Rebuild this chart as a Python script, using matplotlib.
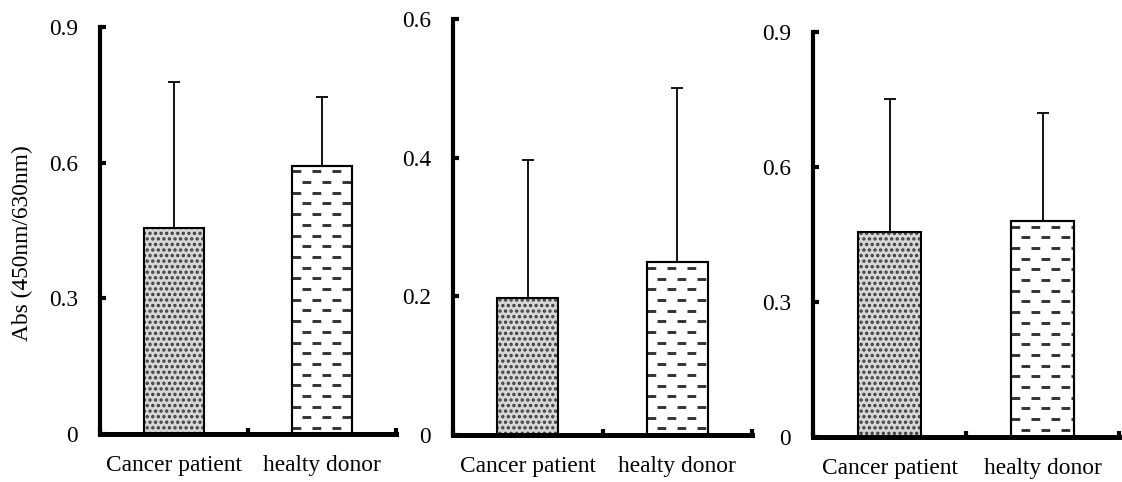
import matplotlib.pyplot as plt

plt.rcParams['font.family'] = ['Liberation Serif', 'DejaVu Serif']
plt.rcParams['lines.scale_dashes'] = False
plt.rcParams['hatch.linewidth'] = 1.6

# group names and absorbance (mean, upper SD) for the three assays
categories = ["Cancer patient", "healty donor"]

means_1 = [0.455, 0.593]
sd_1 = [0.324, 0.153]

means_2 = [0.197, 0.249]
sd_2 = [0.199, 0.251]

means_3 = [0.455, 0.480]
sd_3 = [0.296, 0.240]

ylims = [0.9, 0.6, 0.9]
yticks = [[0, 0.3, 0.6, 0.9], [0, 0.2, 0.4, 0.6], [0, 0.3, 0.6, 0.9]]
ytick_labels = [["0", "0.3", "0.6", "0.9"], ["0", "0.2", "0.4", "0.6"],
                ["0", "0.3", "0.6", "0.9"]]

W, H, DPI = 1122, 482, 100
fig = plt.figure(figsize=(W / DPI, H / DPI), dpi=DPI)

# axes boxes in pixels: left, zero line, right, top
boxes = [(100, 434, 396, 27), (453, 435, 752, 19), (813, 437, 1119, 32)]

xpos = [0.5, 1.5]
bar_w = 0.41
FS = 16.8


def dash_fill(ax, bar, top, px_per_unit):
    # rows of short dashes inside the bar, alternate rows shifted
    step = 10.7 / px_per_unit
    first = 5.5 / px_per_unit
    x0 = bar.get_x()
    x1 = x0 + bar.get_width()
    rows = []
    y = top - first
    while y > 0:
        rows.append(y)
        y -= step
    for k, off in ((0, 0.0), (1, 7.2)):
        ys = rows[k::2]
        lc = ax.hlines(ys, x0, x1, colors='#333333', linewidth=2.1,
                       linestyles=[(off, (6.3, 8.1))], zorder=3)
        lc.set_clip_path(bar)


panels = [(means_1, sd_1), (means_2, sd_2), (means_3, sd_3)]

for i, (means, sds) in enumerate(panels):
    l, b, r, t = boxes[i]
    ax = fig.add_axes([l / W, 1 - b / H, (r - l) / W, (b - t) / H])
    ax.set_xlim(0, 2)
    ax.set_ylim(0, ylims[i])
    px_per_unit = (b - t) / ylims[i]

    # dotted bar for patients
    ax.bar(xpos[0], means[0], width=bar_w, color='#d6d6d6', edgecolor='#3a3a3a',
           linewidth=0, hatch='...', zorder=2)
    ax.bar(xpos[0], means[0], width=bar_w, fill=False, edgecolor='black',
           linewidth=1.5, zorder=4)

    # dashed bar for donors
    bars = ax.bar(xpos[1], means[1], width=bar_w, color='white',
                  edgecolor='black', linewidth=1.5, zorder=2)
    dash_fill(ax, bars[0], means[1], px_per_unit)
    ax.bar(xpos[1], means[1], width=bar_w, fill=False, edgecolor='black',
           linewidth=1.5, zorder=4)

    ax.errorbar(xpos, means, yerr=[[0, 0], sds], fmt='none', ecolor='black',
                elinewidth=1.3, capsize=4.5, capthick=1.3, zorder=1)

    for side in ('top', 'right'):
        ax.spines[side].set_visible(False)
    ax.spines['left'].set_linewidth(3.0)
    ax.spines['bottom'].set_linewidth(3.6)

    ax.set_yticks(yticks[i])
    ax.set_yticklabels(ytick_labels[i])
    ax.tick_params(axis='y', direction='in', length=4.5, width=3.0, pad=16,
                   labelsize=FS)

    ax.set_xticks([0, 1, 2])
    ax.set_xticklabels([])
    ax.tick_params(axis='x', which='major', direction='in', length=4.5, width=3.0)
    ax.set_xticks(xpos, minor=True)
    ax.set_xticklabels(categories, minor=True)
    ax.tick_params(axis='x', which='minor', length=0, pad=15, labelsize=FS)

    if i == 0:
        ax.set_ylabel("Abs (450nm/630nm)", fontsize=FS)
        ax.yaxis.set_label_coords(-0.225, 0.47)

fig.savefig("out.png", dpi=DPI)
